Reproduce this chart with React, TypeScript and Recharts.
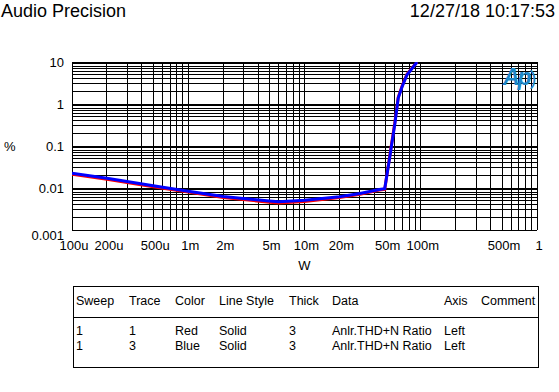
import React from 'react';
import { LineChart, Line, XAxis, YAxis, ReferenceLine } from 'recharts';

// sweep data (W -> THD+N %)
const powerW = [0.0001, 0.0002, 0.0005, 0.001, 0.002, 0.005, 0.006, 0.01, 0.02, 0.03, 0.044, 0.049, 0.054, 0.06, 0.064, 0.069, 0.076, 0.093];
const redPct = [0.0214, 0.0162, 0.0107, 0.008, 0.0059, 0.0046, 0.0044, 0.0048, 0.0059, 0.0071, 0.0089, 0.0093, 0.056, 0.38, 1.45, 2.65, 5.1, 10];
const bluePct = [0.0224, 0.017, 0.0113, 0.0084, 0.0063, 0.0049, 0.0047, 0.0051, 0.0062, 0.0074, 0.0092, 0.0096, 0.052, 0.35, 1.39, 2.54, 4.9, 10];

const xTicks = [0.0001, 0.0002, 0.0005, 0.001, 0.002, 0.005, 0.01, 0.02, 0.05, 0.1, 0.5, 1];
const xTickLabels = ['100u', '200u', '500u', '1m', '2m', '5m', '10m', '20m', '50m', '100m', '500m', '1'];
const yTicks = [0.001, 0.01, 0.1, 1, 10];
const yTickLabels = ['0.001', '0.01', '0.1', '1', '10'];

// log grid: 1..9 in each decade
const gridSteps = [1, 2, 3, 4, 5, 6, 7, 8, 9];
const xDecades = [0.0001, 0.001, 0.01, 0.1];
const yDecades = [0.001, 0.01, 0.1, 1];
const gridX = [...xDecades.flatMap((d) => gridSteps.map((s) => d * s)), 1];
const gridY = [...yDecades.flatMap((d) => gridSteps.map((s) => d * s)), 10];

const tableHeaders = ['Sweep', 'Trace', 'Color', 'Line Style', 'Thick', 'Data', 'Axis', 'Comment'];
const tableRows = [
  ['1', '1', 'Red', 'Solid', '3', 'Anlr.THD+N Ratio', 'Left', ''],
  ['1', '3', 'Blue', 'Solid', '3', 'Anlr.THD+N Ratio', 'Left', ''],
];
const colX = [2, 55, 101, 145, 215, 258, 370, 407];

const data = powerW.map((w, i) => ({ w, red: redPct[i], blue: bluePct[i] }));

const FONT = "Arial, 'Liberation Sans', sans-serif";

const fmtX = (v: number) => xTickLabels[xTicks.indexOf(v)] ?? '';

// y tick: the bottom label sits a bit under its grid line, like the AP plot
const YTick = (props: any) => {
  const { x, y, payload } = props;
  const idx = yTicks.indexOf(payload.value);
  const shift = idx === 0 ? 5 : 0.5;
  return (
    <text x={x} y={y + shift} dy="0.355em" textAnchor="end" fill="#000" fontSize={13}>
      {yTickLabels[idx]}
    </text>
  );
};

const XTick = (props: any) => {
  const { x, y, payload } = props;
  return (
    <text x={x + 2} y={y} dy="0.71em" textAnchor="middle" fill="#000" fontSize={13}>
      {fmtX(payload.value)}
    </text>
  );
};

export default function App() {
  return (
    <div style={{ position: 'absolute', left: 0, top: 0, width: 559, height: 392, background: '#fff', fontFamily: FONT, color: '#000' }}>
      <div style={{ position: 'absolute', left: 1, top: 0, fontSize: 18, lineHeight: '22px' }}>Audio Precision</div>
      <div style={{ position: 'absolute', right: 4, top: 0, fontSize: 18, lineHeight: '22px' }}>12/27/18 10:17:53</div>

      <LineChart width={559} height={392} data={data} margin={{ top: 62, right: 22, bottom: 122, left: 4 }}>
        <XAxis
          dataKey="w"
          type="number"
          scale="log"
          domain={[0.0001, 1]}
          ticks={xTicks}
          interval={0}
          allowDataOverflow
          axisLine={false}
          tickLine={false}
          tickMargin={5}
          height={40}
          tick={<XTick />}
          label={{ value: 'W', position: 'insideBottom', offset: 0, fill: '#000', fontSize: 13 }}
        />
        <YAxis
          type="number"
          scale="log"
          domain={[0.001, 10]}
          ticks={yTicks}
          interval={0}
          allowDataOverflow
          axisLine={false}
          tickLine={false}
          tickMargin={2}
          width={68}
          tick={<YTick />}
          label={{ value: '%', position: 'insideLeft', offset: 0, fill: '#000', fontSize: 13 }}
        />
        {gridX.map((v) => (
          <ReferenceLine key={'gx' + v} x={v} stroke="#000" strokeWidth={1} shapeRendering="crispEdges" />
        ))}
        {gridY.map((v) => (
          <ReferenceLine key={'gy' + v} y={v} stroke="#000" strokeWidth={1} shapeRendering="crispEdges" />
        ))}
        <Line type="linear" dataKey="red" stroke="#ff0000" strokeWidth={3} dot={false} isAnimationActive={false} />
        <Line type="linear" dataKey="blue" stroke="#0000ff" strokeWidth={3} dot={false} isAnimationActive={false} />
      </LineChart>

      {/* AP logo */}
      <div style={{ position: 'absolute', left: 503, top: 63, fontSize: 23, fontWeight: 'bold', fontStyle: 'italic', color: '#1e88c8', lineHeight: '28px', letterSpacing: -2 }}>
        Ap<span style={{ fontStyle: 'normal', fontWeight: 'normal', fontSize: 20 }}>)</span>
      </div>

      {/* trace legend table */}
      <div style={{ position: 'absolute', left: 73, top: 286, width: 464, height: 80, border: '1px solid #000', fontSize: 12.5 }}>
        <div style={{ position: 'absolute', left: 0, top: 30, width: 464, borderTop: '1px solid #000' }} />
        {tableHeaders.map((h, i) => (
          <div key={h} style={{ position: 'absolute', left: colX[i], top: 7, whiteSpace: 'nowrap' }}>{h}</div>
        ))}
        {tableRows.map((row, r) =>
          row.map((c, i) => (
            <div key={r + '-' + i} style={{ position: 'absolute', left: colX[i], top: 37 + r * 14.5, whiteSpace: 'nowrap' }}>{c}</div>
          ))
        )}
      </div>
    </div>
  );
}
